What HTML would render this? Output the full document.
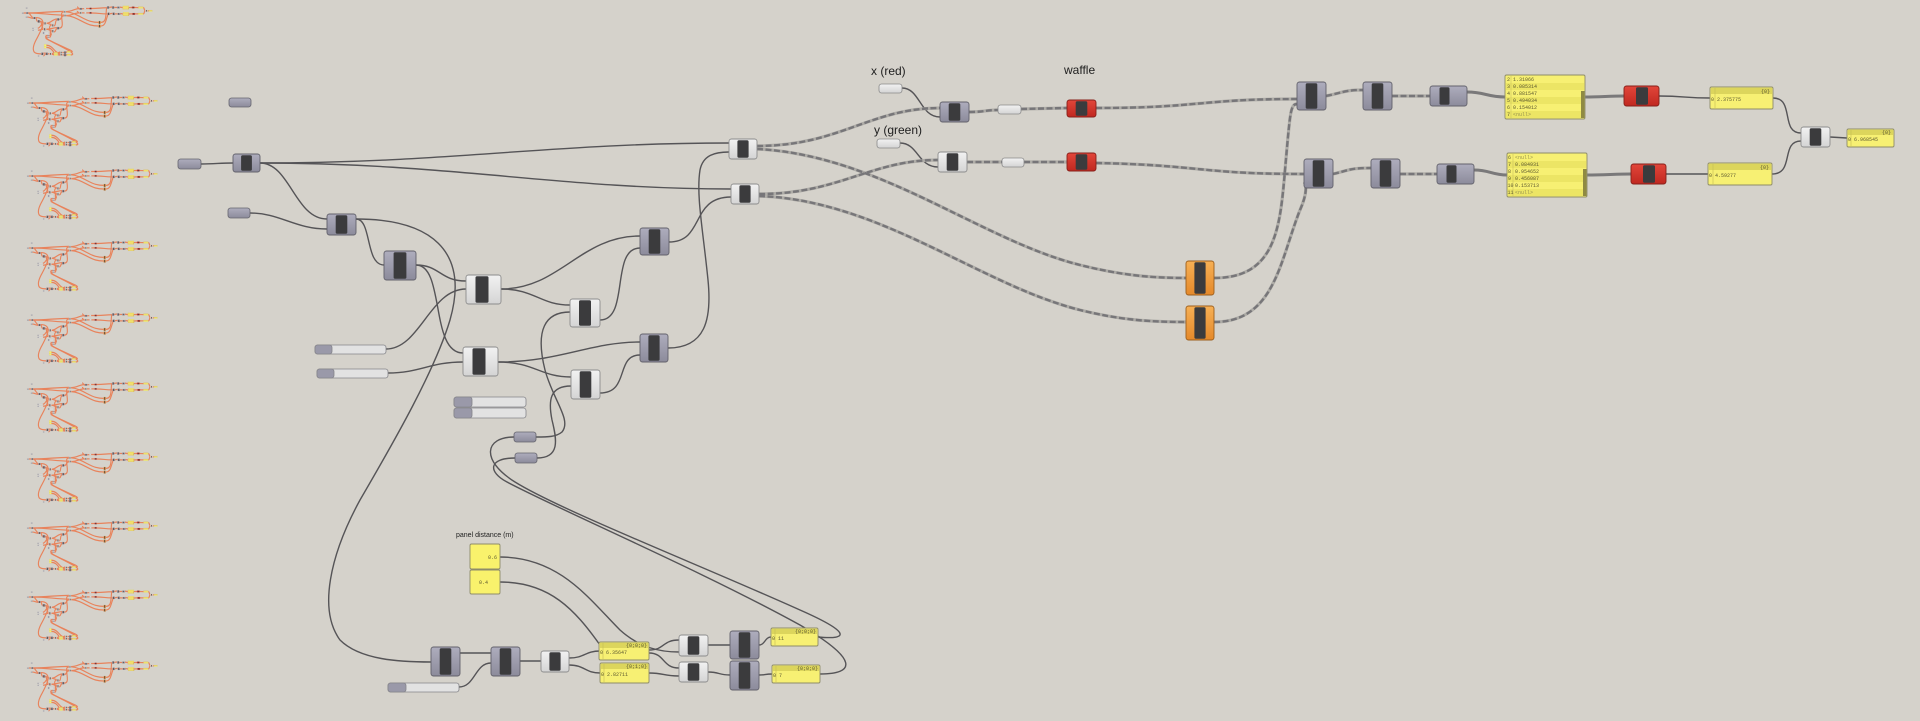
<!DOCTYPE html>
<html><head><meta charset="utf-8"><style>
html,body{margin:0;padding:0;background:#d5d2cb;}
svg{display:block;}
.lbl{font-family:"Liberation Sans",sans-serif;fill:#1e1e1e;}
.pt{font-family:"Liberation Mono",monospace;font-size:5px;fill:#5e5a30;}
.pn{font-family:"Liberation Mono",monospace;font-size:5px;fill:#9a9550;}
</style></head><body>
<svg width="1920" height="721" viewBox="0 0 1920 721" xmlns="http://www.w3.org/2000/svg">
<defs>
<linearGradient id="gG" x1="0" y1="0" x2="0" y2="1"><stop offset="0" stop-color="#aeadbd"/><stop offset="1" stop-color="#8c8b9b"/></linearGradient>
<linearGradient id="gW" x1="0" y1="0" x2="0" y2="1"><stop offset="0" stop-color="#f2f2f2"/><stop offset="1" stop-color="#d4d4d4"/></linearGradient>
<linearGradient id="gR" x1="0" y1="0" x2="0" y2="1"><stop offset="0" stop-color="#e2463a"/><stop offset="1" stop-color="#c02820"/></linearGradient>
<linearGradient id="gO" x1="0" y1="0" x2="0" y2="1"><stop offset="0" stop-color="#f6b055"/><stop offset="1" stop-color="#e5892a"/></linearGradient>

<g id="sw">
<path d="M201,164 C215,164 220,163 233,163"/>
<path d="M260,163 C450,163 550,143 729,143"/>
<path d="M260,163 C450,163 560,189 731,189"/>
<path d="M260,163 C290,163 295,219 327,219"/>
<path d="M250,213 C280,213 295,229 327,229"/>
<path d="M356,219 C372,219 365,265 384,265"/>
<path d="M356,219 C430,219 470,250 450,320 C435,370 395,440 360,500 C330,555 318,610 340,640 C360,660 400,662 431,662"/>
<path d="M416,265 C440,265 440,281 466,281"/>
<path d="M416,265 C445,265 430,353 463,353"/>
<path d="M386,349 C420,349 430,289 466,289"/>
<path d="M388,373 C420,373 430,362 463,362"/>
<path d="M501,289 C560,289 580,236 640,236"/>
<path d="M501,289 C535,289 540,305 570,305"/>
<path d="M498,362 C560,362 590,342 640,342"/>
<path d="M498,362 C535,362 540,377 571,377"/>
<path d="M600,320 C630,320 610,248 640,248"/>
<path d="M600,393 C630,393 615,355 640,355"/>
<path d="M669,242 C705,242 690,197 731,197"/>
<path d="M668,348 C705,348 712,320 708,280 C703,230 696,195 700,170 C703,155 715,152 729,152"/>
<path d="M570,312 C545,312 535,330 545,370 C553,400 572,420 562,432 C556,437 548,437 536,437"/>
<path d="M571,386 C550,386 548,400 552,420 C557,440 560,458 537,458"/>
<path d="M514,437 C485,437 480,460 515,482 C560,510 700,565 800,610 C850,632 850,640 818,637"/>
<path d="M515,458 C488,458 488,472 507,482 C560,510 700,570 800,625 C860,660 855,674 820,674"/>
<path d="M500,557 C560,557 590,600 620,630 C640,648 660,652 679,652"/>
<path d="M500,582 C550,582 575,610 600,645"/>
<path d="M460,653 C475,653 475,653 491,653"/>
<path d="M459,687 C475,687 475,663 491,663"/>
<path d="M520,661 L541,661"/>
<path d="M569,658 C585,658 585,651 600,651"/>
<path d="M569,665 C585,665 585,673 600,673"/>
<path d="M649,650 C665,650 662,640 679,640"/>
<path d="M649,653 C665,653 662,668 679,668"/>
<path d="M649,673 C665,673 662,676 679,676"/>
<path d="M708,645 L730,645"/>
<path d="M708,672 C720,672 718,675 730,675"/>
<path d="M759,645 C765,645 765,637 771,637"/>
<path d="M759,675 C765,675 765,674 772,674"/>
<path d="M902,88 C920,88 920,117 940,117"/>
<path d="M900,143 C918,143 918,167 938,167"/>
<path d="M1773,98 C1795,98 1780,133 1801,133"/>
<path d="M1772,174 C1795,174 1780,141 1801,141"/>
<path d="M1830,137 L1847,138"/>
<path d="M1659,96 C1685,96 1685,98 1710,98"/>
<path d="M1666,174 C1690,174 1685,174 1708,174"/>
</g>

<g id="tw">
<path d="M1467,92 C1485,92 1487,97 1505,97"/>
<path d="M1585,97 C1600,97 1610,96 1624,96"/>
<path d="M1474,170 C1490,170 1492,175 1507,175"/>
<path d="M1587,175 C1605,175 1615,174 1631,174"/>
</g>

<g id="dw">
<path d="M757,146 C840,146 870,108 940,108"/>
<path d="M757,149 C880,155 980,240 1080,265 C1120,275 1150,278 1186,278"/>
<path d="M759,194 C840,194 870,160 938,160"/>
<path d="M759,196 C880,200 980,285 1080,310 C1120,320 1150,322 1186,322"/>
<path d="M969,112 C985,112 985,110 998,110"/>
<path d="M1021,109 L1067,108"/>
<path d="M967,162 L1002,162"/>
<path d="M1024,162 L1067,162"/>
<path d="M1096,108 C1200,108 1200,99 1297,99"/>
<path d="M1096,163 C1200,165 1200,174 1304,174"/>
<path d="M1214,278 C1275,278 1280,230 1285,170 C1290,115 1290,104 1297,104"/>
<path d="M1214,322 C1275,322 1280,260 1300,210 C1308,192 1306,184 1304,182"/>
<path d="M1326,96 C1345,92 1345,90 1363,90"/>
<path d="M1333,174 C1350,170 1350,168 1371,168"/>
<path d="M1392,96 L1430,96"/>
<path d="M1400,174 L1437,174"/>
</g>

<g id="nodes">
<g fill="url(#gG)" stroke="#66656e" stroke-width="0.8">
<rect x="178" y="159" width="23" height="10" rx="2.5"/>
<rect x="229" y="98" width="22" height="9" rx="2.5"/>
<rect x="228" y="208" width="22" height="10" rx="2.5"/>
<rect x="514" y="432" width="22" height="10" rx="2.5"/>
<rect x="515" y="453" width="22" height="10" rx="2.5"/>
</g>
<g fill="url(#gW)" stroke="#8a8a8a" stroke-width="0.8">
<rect x="879" y="84" width="23" height="9" rx="2.5"/>
<rect x="998" y="105" width="23" height="9" rx="2.5"/>
<rect x="877" y="139" width="23" height="9" rx="2.5"/>
<rect x="1002" y="158" width="22" height="9" rx="2.5"/>
</g>
<g stroke="#85858a" stroke-width="0.8">
<rect x="315" y="345" width="71" height="9" rx="2.5" fill="#e2e2e2"/><rect x="315" y="345" width="17" height="9" rx="2.5" fill="#9a99a9"/>
<rect x="317" y="369" width="71" height="9" rx="2.5" fill="#e2e2e2"/><rect x="317" y="369" width="17" height="9" rx="2.5" fill="#9a99a9"/>
<rect x="454" y="397" width="72" height="10" rx="2.5" fill="#e2e2e2"/><rect x="454" y="397" width="18" height="10" rx="2.5" fill="#9a99a9"/>
<rect x="454" y="408" width="72" height="10" rx="2.5" fill="#e2e2e2"/><rect x="454" y="408" width="18" height="10" rx="2.5" fill="#9a99a9"/>
<rect x="388" y="683" width="71" height="9" rx="2.5" fill="#e2e2e2"/><rect x="388" y="683" width="18" height="9" rx="2.5" fill="#9a99a9"/>
</g>
<g fill="url(#gG)" stroke="#62616b" stroke-width="0.9">
<rect x="233" y="154" width="27" height="18" rx="2.5"/>
<rect x="327" y="214" width="29" height="21" rx="2.5"/>
<rect x="384" y="251" width="32" height="29" rx="2.5"/>
<rect x="640" y="228" width="29" height="27" rx="2.5"/>
<rect x="640" y="334" width="28" height="28" rx="2.5"/>
<rect x="940" y="102" width="29" height="20" rx="2.5"/>
<rect x="1297" y="82" width="29" height="28" rx="2.5"/>
<rect x="1363" y="82" width="29" height="28" rx="2.5"/>
<rect x="1430" y="86" width="37" height="20" rx="2.5"/>
<rect x="1304" y="159" width="29" height="29" rx="2.5"/>
<rect x="1371" y="159" width="29" height="29" rx="2.5"/>
<rect x="1437" y="164" width="37" height="20" rx="2.5"/>
<rect x="431" y="647" width="29" height="29" rx="2.5"/>
<rect x="491" y="647" width="29" height="29" rx="2.5"/>
<rect x="730" y="631" width="29" height="28" rx="2.5"/>
<rect x="730" y="661" width="29" height="29" rx="2.5"/>
</g>
<g fill="url(#gW)" stroke="#8c8c8c" stroke-width="0.9">
<rect x="466" y="275" width="35" height="29" rx="2.5"/>
<rect x="463" y="347" width="35" height="29" rx="2.5"/>
<rect x="570" y="299" width="30" height="28" rx="2.5"/>
<rect x="571" y="370" width="29" height="29" rx="2.5"/>
<rect x="729" y="139" width="28" height="20" rx="2.5"/>
<rect x="731" y="184" width="28" height="20" rx="2.5"/>
<rect x="938" y="152" width="29" height="20" rx="2.5"/>
<rect x="541" y="651" width="28" height="21" rx="2.5"/>
<rect x="679" y="635" width="29" height="21" rx="2.5"/>
<rect x="679" y="662" width="29" height="20" rx="2.5"/>
<rect x="1801" y="127" width="29" height="20" rx="2.5"/>
</g>
<g fill="url(#gR)" stroke="#86201a" stroke-width="0.9">
<rect x="1067" y="100" width="29" height="17" rx="2.5"/>
<rect x="1067" y="153" width="29" height="18" rx="2.5"/>
<rect x="1624" y="86" width="35" height="20" rx="2.5"/>
<rect x="1631" y="164" width="35" height="20" rx="2.5"/>
</g>
<g fill="url(#gO)" stroke="#9c5e1c" stroke-width="0.9">
<rect x="1186" y="261" width="28" height="34" rx="2.5"/>
<rect x="1186" y="306" width="28" height="34" rx="2.5"/>
</g>
<g fill="#3b3b3d">
<rect x="241.1" y="155.2" width="10.8" height="15.6" rx="1.5"/>
<rect x="335.7" y="215.2" width="11.6" height="18.6" rx="1.5"/>
<rect x="393.6" y="252.2" width="12.8" height="26.6" rx="1.5"/>
<rect x="648.7" y="229.2" width="11.6" height="24.6" rx="1.5"/>
<rect x="648.4" y="335.2" width="11.2" height="25.6" rx="1.5"/>
<rect x="948.7" y="103.2" width="11.6" height="17.6" rx="1.5"/>
<rect x="1305.7" y="83.2" width="11.6" height="25.6" rx="1.5"/>
<rect x="1371.7" y="83.2" width="11.6" height="25.6" rx="1.5"/>
<rect x="1439.5" y="87.2" width="10" height="17.6" rx="1.5"/>
<rect x="1312.7" y="160.2" width="11.6" height="26.6" rx="1.5"/>
<rect x="1379.7" y="160.2" width="11.6" height="26.6" rx="1.5"/>
<rect x="1446.5" y="165.2" width="10" height="17.6" rx="1.5"/>
<rect x="439.7" y="648.2" width="11.6" height="26.6" rx="1.5"/>
<rect x="499.7" y="648.2" width="11.6" height="26.6" rx="1.5"/>
<rect x="738.7" y="632.2" width="11.6" height="25.6" rx="1.5"/>
<rect x="738.7" y="662.2" width="11.6" height="26.6" rx="1.5"/>
<rect x="475.5" y="276.2" width="13" height="26.6" rx="1.5"/>
<rect x="472.5" y="348.2" width="13" height="26.6" rx="1.5"/>
<rect x="579" y="300.2" width="12" height="25.6" rx="1.5"/>
<rect x="579.7" y="371.2" width="11.6" height="26.6" rx="1.5"/>
<rect x="737.4" y="140.2" width="11.2" height="17.6" rx="1.5"/>
<rect x="739.4" y="185.2" width="11.2" height="17.6" rx="1.5"/>
<rect x="946.7" y="153.2" width="11.6" height="17.6" rx="1.5"/>
<rect x="549.4" y="652.2" width="11.2" height="18.6" rx="1.5"/>
<rect x="687.7" y="636.2" width="11.6" height="18.6" rx="1.5"/>
<rect x="687.7" y="663.2" width="11.6" height="17.6" rx="1.5"/>
<rect x="1809.7" y="128.2" width="11.6" height="17.6" rx="1.5"/>
<rect x="1075.7" y="101.2" width="11.6" height="14.6" rx="1.5"/>
<rect x="1075.7" y="154.2" width="11.6" height="15.6" rx="1.5"/>
<rect x="1636" y="87.2" width="12" height="17.6" rx="1.5"/>
<rect x="1643" y="165.2" width="12" height="17.6" rx="1.5"/>
<rect x="1194.4" y="262.2" width="11.2" height="31.6" rx="1.5"/>
<rect x="1194.4" y="307.2" width="11.2" height="31.6" rx="1.5"/>
</g>
<g fill="#f9f26c" stroke="#8e8c6a" stroke-width="0.9">
<rect x="470" y="544" width="30" height="25" rx="1.5"/>
<rect x="470" y="570" width="30" height="24" rx="1.5"/>
</g>
<g stroke="#8e8c6a" stroke-width="0.9">
<rect x="1505" y="75" width="80" height="44" rx="1.5" fill="#f7f073"/>
<rect x="1507" y="153" width="80" height="44" rx="1.5" fill="#f7f073"/>
</g>
<g fill="#ece565">
<rect x="1506" y="83" width="78" height="7"/><rect x="1506" y="97" width="78" height="7"/><rect x="1506" y="111" width="78" height="7"/>
<rect x="1508" y="161" width="78" height="7"/><rect x="1508" y="175" width="78" height="7"/><rect x="1508" y="189" width="78" height="7"/>
</g>
<g stroke="#c9c260" stroke-width="0.6">
<line x1="1511" y1="76" x2="1511" y2="118"/><line x1="1513" y1="154" x2="1513" y2="196"/>
</g>
<rect x="1581" y="91" width="3.5" height="27" fill="#8f8a42"/>
<rect x="1583" y="169" width="3.5" height="27" fill="#8f8a42"/>
<g stroke="#8e8c6a" stroke-width="0.9" fill="#f7f073">
<rect x="1710" y="87" width="63" height="22" rx="1.5"/>
<rect x="1708" y="163" width="64" height="22" rx="1.5"/>
<rect x="1847" y="129" width="47" height="18" rx="1.5"/>
<rect x="599" y="642" width="50" height="18" rx="1.5"/>
<rect x="600" y="663" width="49" height="20" rx="1.5"/>
<rect x="771" y="628" width="47" height="18" rx="1.5"/>
<rect x="772" y="665" width="48" height="18" rx="1.5"/>
</g>
<g fill="#dcd55c">
<rect x="1711" y="88" width="61" height="6"/>
<rect x="1709" y="164" width="62" height="6"/>
<rect x="1848" y="130" width="45" height="5"/>
<rect x="600" y="643" width="48" height="5"/>
<rect x="601" y="664" width="47" height="5"/>
<rect x="772" y="629" width="45" height="5"/>
<rect x="773" y="666" width="46" height="5"/>
</g>
<g stroke="#c4bd58" stroke-width="0.6">
<line x1="1715" y1="88" x2="1715" y2="108"/><line x1="1713" y1="164" x2="1713" y2="184"/>
<line x1="1851" y1="130" x2="1851" y2="146"/><line x1="603" y1="643" x2="603" y2="659"/>
<line x1="604" y1="664" x2="604" y2="682"/><line x1="775" y1="629" x2="775" y2="645"/>
<line x1="776" y1="666" x2="776" y2="682"/>
</g>
</g>
</defs>

<rect x="0" y="0" width="1920" height="721" fill="#d5d2cb"/>

<!-- thumbnails -->
<g fill="none" stroke="#e8835c" stroke-width="15">
<g transform="translate(8.4,-0.4) scale(0.076,0.082)"><use href="#sw"/><use href="#dw"/><use href="#tw"/><use href="#nodes" stroke-width="1"/></g>
<g transform="translate(13.5,89.6) scale(0.076,0.082)"><use href="#sw"/><use href="#dw"/><use href="#tw"/><use href="#nodes" stroke-width="1"/></g>
<g transform="translate(13.5,162.6) scale(0.076,0.082)"><use href="#sw"/><use href="#dw"/><use href="#tw"/><use href="#nodes" stroke-width="1"/></g>
<g transform="translate(13.5,234.6) scale(0.076,0.082)"><use href="#sw"/><use href="#dw"/><use href="#tw"/><use href="#nodes" stroke-width="1"/></g>
<g transform="translate(13.5,306.6) scale(0.076,0.082)"><use href="#sw"/><use href="#dw"/><use href="#tw"/><use href="#nodes" stroke-width="1"/></g>
<g transform="translate(13.5,375.6) scale(0.076,0.082)"><use href="#sw"/><use href="#dw"/><use href="#tw"/><use href="#nodes" stroke-width="1"/></g>
<g transform="translate(13.5,445.6) scale(0.076,0.082)"><use href="#sw"/><use href="#dw"/><use href="#tw"/><use href="#nodes" stroke-width="1"/></g>
<g transform="translate(13.5,514.6) scale(0.076,0.082)"><use href="#sw"/><use href="#dw"/><use href="#tw"/><use href="#nodes" stroke-width="1"/></g>
<g transform="translate(13.5,583.6) scale(0.076,0.082)"><use href="#sw"/><use href="#dw"/><use href="#tw"/><use href="#nodes" stroke-width="1"/></g>
<g transform="translate(13.5,654.6) scale(0.076,0.082)"><use href="#sw"/><use href="#dw"/><use href="#tw"/><use href="#nodes" stroke-width="1"/></g>
</g>

<!-- main wires -->
<use href="#sw" fill="none" stroke="#555457" stroke-width="1.4"/>
<use href="#tw" fill="none" stroke="#7a797a" stroke-width="3"/>
<use href="#dw" fill="none" stroke="#aeaca7" stroke-width="3.2"/>
<use href="#dw" fill="none" stroke="#777679" stroke-width="2.4" stroke-dasharray="6 2.5"/>

<!-- main nodes -->
<use href="#nodes"/>

<!-- labels -->
<text class="lbl" x="871" y="75" font-size="12">x (red)</text>
<text class="lbl" x="1064" y="74" font-size="12">waffle</text>
<text class="lbl" x="874" y="134" font-size="12">y (green)</text>
<text class="lbl" x="456" y="537" font-size="7">panel distance (m)</text>

<text class="pt" x="497" y="559" text-anchor="end">0.6</text>
<text class="pt" x="479" y="584">0.4</text>

<g class="pt">
<text x="1507" y="81">2</text><text x="1513" y="81">1.31066</text>
<text x="1507" y="88">3</text><text x="1513" y="88">0.085314</text>
<text x="1507" y="95">4</text><text x="1513" y="95">0.881547</text>
<text x="1507" y="102">5</text><text x="1513" y="102">0.494034</text>
<text x="1507" y="109">6</text><text x="1513" y="109">0.154012</text>
<text x="1507" y="116">7</text>
<text x="1508" y="159">6</text>
<text x="1508" y="166">7</text><text x="1515" y="166">0.084931</text>
<text x="1508" y="173">8</text><text x="1515" y="173">0.954652</text>
<text x="1508" y="180">9</text><text x="1515" y="180">0.456087</text>
<text x="1507.5" y="187">10</text><text x="1515" y="187">0.153713</text>
<text x="1507.5" y="194">11</text>
<text x="1770" y="93" text-anchor="end">{0}</text><text x="1711" y="101">0 2.375775</text>
<text x="1769" y="169" text-anchor="end">{0}</text><text x="1709" y="177">0 4.59277</text>
<text x="1891" y="134" text-anchor="end">{0}</text><text x="1848" y="141">0 6.968545</text>
<text x="647" y="647" text-anchor="end">{0;0;0}</text><text x="600" y="654">0 6.35647</text>
<text x="647" y="668" text-anchor="end">{0;1;0}</text><text x="601" y="676">0 2.82711</text>
<text x="816" y="633" text-anchor="end">{0;0;0}</text><text x="772" y="640">0 11</text>
<text x="818" y="670" text-anchor="end">{0;0;0}</text><text x="773" y="677">0 7</text>
</g>
<g class="pn">
<text x="1513" y="116">&lt;null&gt;</text>
<text x="1515" y="159">&lt;null&gt;</text>
<text x="1515" y="194">&lt;null&gt;</text>
</g>
</svg>
</body></html>
